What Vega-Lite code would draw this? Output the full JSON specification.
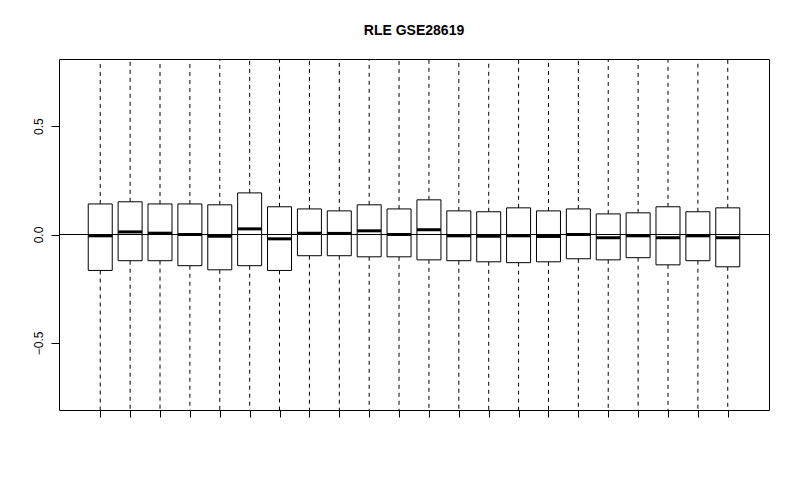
{
  "$schema": "https://vega.github.io/schema/vega-lite/v6.json",
  "width": 710,
  "height": 351,
  "autosize": {"type": "none"},
  "padding": {"left": 59, "top": 59, "right": 31, "bottom": 74},
  "background": "white",
  "config": {
    "view": {"stroke": "black", "strokeWidth": 1},
    "font": "Liberation Sans"
  },
  "title": {
    "text": "RLE GSE28619",
    "fontSize": 14,
    "fontWeight": "bold",
    "font": "Liberation Sans",
    "color": "black",
    "anchor": "middle",
    "frame": "group",
    "baseline": "alphabetic",
    "offset": 10
  },
  "data": {
    "values": [
      {"array": 1, "lo": -1.2, "q1": -0.166, "med": -0.006, "q3": 0.141, "hi": 1.2},
      {"array": 2, "lo": -1.2, "q1": -0.121, "med": 0.012, "q3": 0.151, "hi": 1.2},
      {"array": 3, "lo": -1.2, "q1": -0.121, "med": 0.006, "q3": 0.141, "hi": 1.2},
      {"array": 4, "lo": -1.2, "q1": -0.144, "med": 0.0, "q3": 0.141, "hi": 1.2},
      {"array": 5, "lo": -1.2, "q1": -0.163, "med": -0.008, "q3": 0.137, "hi": 1.2},
      {"array": 6, "lo": -1.2, "q1": -0.144, "med": 0.026, "q3": 0.192, "hi": 1.2},
      {"array": 7, "lo": -1.2, "q1": -0.166, "med": -0.02, "q3": 0.128, "hi": 1.2},
      {"array": 8, "lo": -1.2, "q1": -0.098, "med": 0.006, "q3": 0.118, "hi": 1.2},
      {"array": 9, "lo": -1.2, "q1": -0.098, "med": 0.005, "q3": 0.109, "hi": 1.2},
      {"array": 10, "lo": -1.2, "q1": -0.103, "med": 0.017, "q3": 0.137, "hi": 1.2},
      {"array": 11, "lo": -1.2, "q1": -0.103, "med": 0.0, "q3": 0.118, "hi": 1.2},
      {"array": 12, "lo": -1.2, "q1": -0.117, "med": 0.022, "q3": 0.16, "hi": 1.2},
      {"array": 13, "lo": -1.2, "q1": -0.121, "med": -0.006, "q3": 0.109, "hi": 1.2},
      {"array": 14, "lo": -1.2, "q1": -0.126, "med": -0.008, "q3": 0.105, "hi": 1.2},
      {"array": 15, "lo": -1.2, "q1": -0.13, "med": -0.006, "q3": 0.123, "hi": 1.2},
      {"array": 16, "lo": -1.2, "q1": -0.126, "med": -0.009, "q3": 0.109, "hi": 1.2},
      {"array": 17, "lo": -1.2, "q1": -0.112, "med": 0.0, "q3": 0.118, "hi": 1.2},
      {"array": 18, "lo": -1.2, "q1": -0.117, "med": -0.015, "q3": 0.095, "hi": 1.2},
      {"array": 19, "lo": -1.2, "q1": -0.107, "med": -0.006, "q3": 0.1, "hi": 1.2},
      {"array": 20, "lo": -1.2, "q1": -0.14, "med": -0.015, "q3": 0.128, "hi": 1.2},
      {"array": 21, "lo": -1.2, "q1": -0.121, "med": -0.006, "q3": 0.105, "hi": 1.2},
      {"array": 22, "lo": -1.2, "q1": -0.149, "med": -0.015, "q3": 0.123, "hi": 1.2}
    ]
  },
  "encoding": {
    "x": {
      "field": "array",
      "type": "quantitative",
      "scale": {"domain": [-0.38, 23.38], "nice": false, "zero": false, "padding": 0},
      "axis": {
        "title": null,
        "values": [1,2,3,4,5,6,7,8,9,10,11,12,13,14,15,16,17,18,19,20,21,22],
        "labels": false,
        "grid": false,
        "domain": false,
        "ticks": true,
        "tickSize": 7,
        "tickColor": "black",
        "tickWidth": 1
      }
    }
  },
  "layer": [
    {
      "mark": {"type": "rule", "color": "black", "strokeWidth": 1, "strokeDash": [4, 4], "clip": true},
      "encoding": {
        "y": {
          "field": "q3",
          "type": "quantitative",
          "scale": {"domain": [-0.81, 0.81], "nice": false, "zero": false, "padding": 0},
          "axis": {
            "title": null,
            "values": [-0.5, 0, 0.5],
            "format": ".1f",
            "grid": false,
            "domain": false,
            "tickSize": 8,
            "tickColor": "black",
            "labelAngle": 270,
            "labelAlign": "center",
            "labelBaseline": "bottom",
            "labelPadding": 6,
            "labelFontSize": 12,
            "labelColor": "black",
            "labelFont": "Liberation Sans"
          }
        },
        "y2": {"field": "hi"}
      }
    },
    {
      "mark": {"type": "rule", "color": "black", "strokeWidth": 1, "strokeDash": [4, 4], "clip": true},
      "encoding": {
        "y": {"field": "q1", "type": "quantitative"},
        "y2": {"field": "lo"}
      }
    },
    {
      "mark": {"type": "bar", "fill": "white", "stroke": "black", "strokeWidth": 1, "size": 24, "orient": "vertical"},
      "encoding": {
        "y": {"field": "q1", "type": "quantitative"},
        "y2": {"field": "q3"}
      }
    },
    {
      "mark": {"type": "rule", "color": "black", "strokeWidth": 1},
      "encoding": {
        "y": {"datum": 0, "type": "quantitative"},
        "x": {"value": 0},
        "x2": {"value": 710}
      }
    },
    {
      "mark": {"type": "tick", "color": "black", "orient": "horizontal", "size": 24, "thickness": 3, "opacity": 1},
      "encoding": {
        "y": {"field": "med", "type": "quantitative"}
      }
    }
  ]
}
